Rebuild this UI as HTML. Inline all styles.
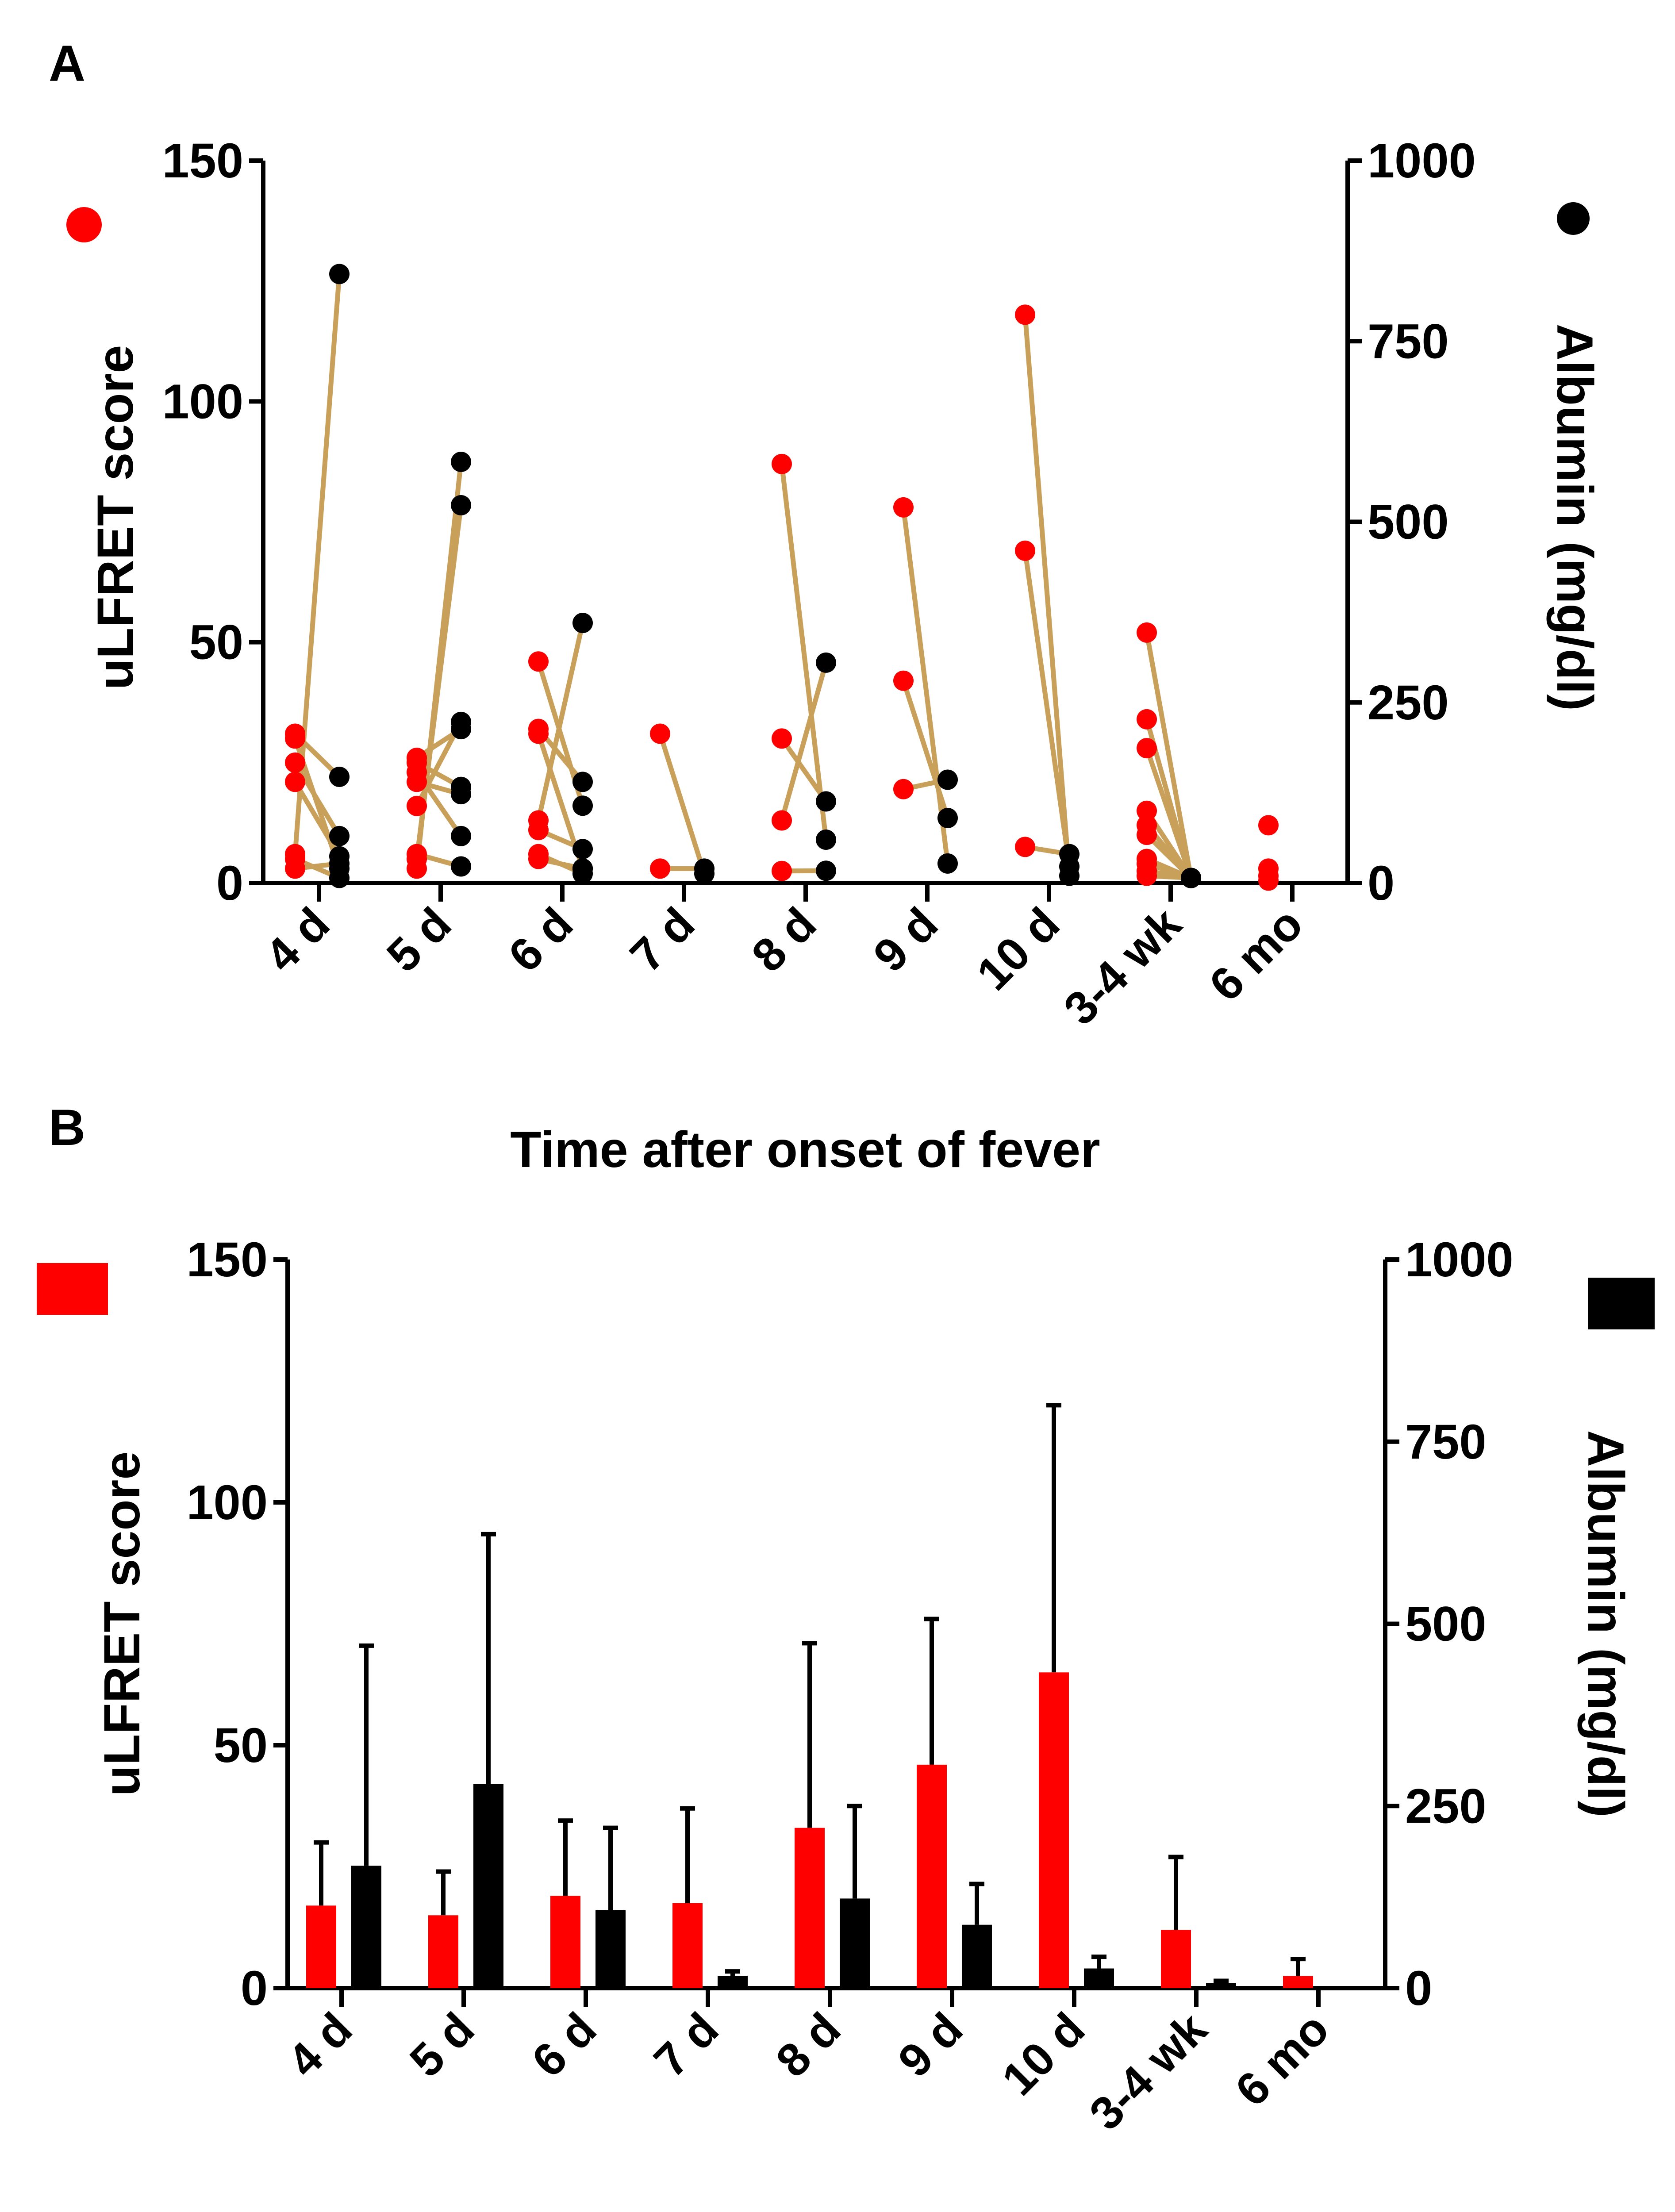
<!DOCTYPE html>
<html><head><meta charset="utf-8"><style>
html,body{margin:0;padding:0;background:#fff;width:3786px;height:5208px;overflow:hidden;}
svg{display:block;font-family:"Liberation Sans",Arial,sans-serif;font-weight:bold;}
</style></head><body>
<svg id="fig" width="3786" height="5208" viewBox="0 0 3786 5208" xmlns="http://www.w3.org/2000/svg">
<text x="110" y="183" font-size="115">A</text>
<text x="110" y="2588" font-size="115">B</text>
<g id="pa"></g>
<g id="pb"></g>
</svg>
<script>
const categories=["4 d","5 d","6 d","7 d","8 d","9 d","10 d","3-4 wk","6 mo"];
const leftTicks=[0,50,100,150];
const rightTicks=[0,250,500,750,1000];
// Panel A: paired patient points (uLFRET score, albumin mg/dl)
const pairRed=[[31,30,25,21,6,5,3],[3,5,26,25,23,21,16,6],[46,32,31,13,11,6,5],[31,3],[87,30,13,2.5],[78,42,19.5],[118,69,7.5],[52,34,28,15,12,10,5,4,2.5,1.5],[12,3,1.5,0.5]];
const pairAlb=[[147,20,65,37,843,7,27],[583,523,213,133,65,123,223,23],[107,140,20,360,47,13,20],[13,20],[60,113,305,17],[27,90,143],[10,23,40],[7,7,7,7,7,7,7,7,7,7],[null,null,null,null]];
// Panel B: means and SD tops
const meanScore=[17,15,19,17.5,33,46,65,12,2.5];
const sdScore=[30,24,34.5,37,71,76,120,27,6];
const meanAlb=[168,280,107,17,123,87,27,7,0];
const sdAlb=[470,623,220,23,250,143,43,10,0];

const NS="http://www.w3.org/2000/svg";
function mk(parent,tag,attrs,text){const e=document.createElementNS(NS,tag);for(const k in attrs)e.setAttribute(k,attrs[k]);if(text!==undefined)e.textContent=text;parent.appendChild(e);return e;}

function drawAxes(g,cfg){
  const yL=v=>cfg.y0-(v/150)*(cfg.y0-cfg.y1);
  const yR=v=>cfg.y0-(v/1000)*(cfg.y0-cfg.y1);
  const xc=i=>cfg.xs+i*cfg.step;
  let e;
  e=mk(g,'line',{x1:cfg.xl,y1:cfg.y1,x2:cfg.xl,y2:cfg.y0,stroke:'#000','stroke-width':10});
  
  e=mk(g,'line',{x1:cfg.xr,y1:cfg.y1,x2:cfg.xr,y2:cfg.y0,stroke:'#000','stroke-width':10});
  
  e=mk(g,'line',{x1:cfg.xl-5,y1:cfg.y0,x2:cfg.xr+5,y2:cfg.y0,stroke:'#000','stroke-width':10});
  
  leftTicks.forEach(v=>{
    e=mk(g,'line',{x1:cfg.xl-32,y1:yL(v),x2:cfg.xl,y2:yL(v),stroke:'#000','stroke-width':10});
    
    e=mk(g,'text',{x:cfg.xl-45,y:yL(v)+38,'font-size':110,'text-anchor':'end'},String(v));
    
  });
  rightTicks.forEach(v=>{
    e=mk(g,'line',{x1:cfg.xr,y1:yR(v),x2:cfg.xr+32,y2:yR(v),stroke:'#000','stroke-width':10});
    
    e=mk(g,'text',{x:cfg.xr+45,y:yR(v)+38,'font-size':110},String(v));
    
  });
  categories.forEach((c,i)=>{
    e=mk(g,'line',{x1:xc(i),y1:cfg.y0,x2:xc(i),y2:cfg.y0+42,stroke:'#000','stroke-width':10});
    
    const tx=xc(i)+30, ty=cfg.y0+100;
    e=mk(g,'text',{x:tx,y:ty,'font-size':105,'text-anchor':'end',transform:`rotate(-45 ${tx} ${ty})`},c);
    
  });
  e=mk(g,'text',{x:cfg.titleX,y:cfg.titleY,'font-size':115,'text-anchor':'middle'},'Time after onset of fever');
  
  const ly=(cfg.y0+cfg.y1)/2+cfg.ltOff;
  e=mk(g,'text',{x:cfg.ltx,y:ly,'font-size':115,'text-anchor':'middle',transform:`rotate(-90 ${cfg.ltx} ${ly})`},'uLFRET score');
  
  e=mk(g,'text',{x:cfg.rtx,y:ly,'font-size':115,'text-anchor':'middle',transform:`rotate(90 ${cfg.rtx} ${ly})`},'Albumin (mg/dl)');
  
  return {yL,yR,xc};
}

// Panel A
(function(){
  const g=document.getElementById('pa');
  const cfg={xl:595,xr:3046,y0:1996,y1:363,xs:721,step:275,titleX:1820,titleY:2638,ltx:300,rtx:3520,ltOff:-10};
  const ax=drawAxes(g,cfg);
  let e;
  categories.forEach((c,i)=>{
    const rx=ax.xc(i)-54,bx=ax.xc(i)+46;
    pairRed[i].forEach((r,j)=>{
      const a=pairAlb[i][j];
      if(a!==null){
        e=mk(g,'line',{x1:rx,y1:ax.yL(r),x2:bx,y2:ax.yR(a),stroke:'#C9A05A','stroke-width':11});
        
      }
    });
    pairAlb[i].forEach(a=>{
      if(a===null)return;
      e=mk(g,'circle',{cx:bx,cy:ax.yR(a),r:23,fill:'#000'});
      
    });
    pairRed[i].forEach(r=>{
      e=mk(g,'circle',{cx:rx,cy:ax.yL(r),r:23,fill:'#f00'});
      
    });
  });
  e=mk(g,'circle',{cx:190,cy:508,r:40,fill:'#f00'});
  
  e=mk(g,'circle',{cx:3556,cy:494,r:37,fill:'#000'});
  
})();

// Panel B
(function(){
  const g=document.getElementById('pb');
  const cfg={xl:650,xr:3131,y0:4494,y1:2847,xs:772,step:276,titleX:1893,titleY:5150,ltx:315,rtx:3590,ltOff:0};
  const ax=drawAxes(g,cfg);
  let e;
  const w=68;
  categories.forEach((c,i)=>{
    const rx=ax.xc(i)-46,bx=ax.xc(i)+56;
    if(sdScore[i]>meanScore[i]){
      e=mk(g,'line',{x1:rx,y1:ax.yL(meanScore[i]),x2:rx,y2:ax.yL(sdScore[i]),stroke:'#000','stroke-width':10});
      
      e=mk(g,'line',{x1:rx-17,y1:ax.yL(sdScore[i]),x2:rx+17,y2:ax.yL(sdScore[i]),stroke:'#000','stroke-width':10});
      
    }
    e=mk(g,'rect',{x:rx-w/2,y:ax.yL(meanScore[i]),width:w,height:cfg.y0-ax.yL(meanScore[i]),fill:'#f00'});
    
    if(sdAlb[i]>meanAlb[i]){
      e=mk(g,'line',{x1:bx,y1:ax.yR(meanAlb[i]),x2:bx,y2:ax.yR(sdAlb[i]),stroke:'#000','stroke-width':10});
      
      e=mk(g,'line',{x1:bx-17,y1:ax.yR(sdAlb[i]),x2:bx+17,y2:ax.yR(sdAlb[i]),stroke:'#000','stroke-width':10});
      
    }
    e=mk(g,'rect',{x:bx-w/2,y:ax.yR(meanAlb[i]),width:w,height:cfg.y0-ax.yR(meanAlb[i]),fill:'#000'});
    
  });
  e=mk(g,'rect',{x:83,y:2855,width:161,height:117,fill:'#f00'});
  
  e=mk(g,'rect',{x:3589,y:2888,width:151,height:117,fill:'#000'});
  
})();
</script>
</body></html>
